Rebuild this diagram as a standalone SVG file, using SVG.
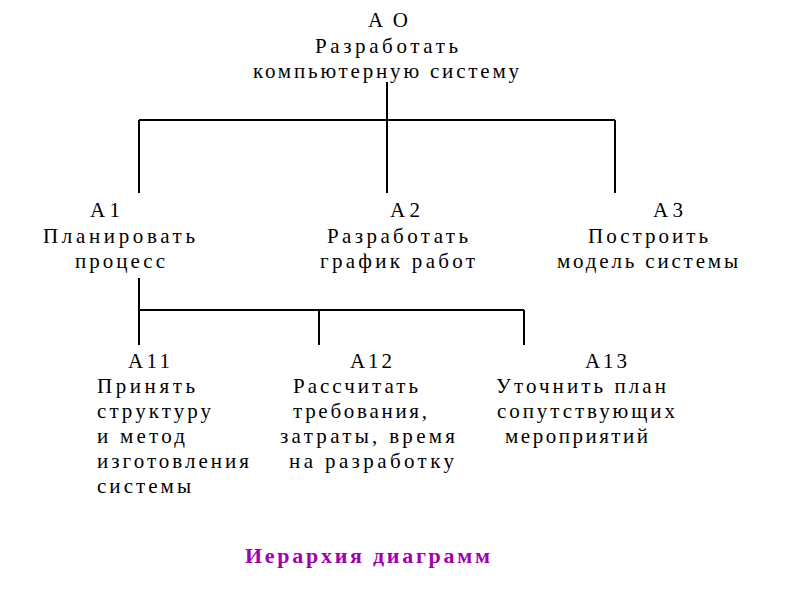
<svg xmlns="http://www.w3.org/2000/svg" width="800" height="600" viewBox="0 0 800 600">
<style>
text{font-family:"Liberation Serif","DejaVu Serif",serif;font-size:21px;fill:#000}
.l{stroke:#000;stroke-width:2;fill:none}
.t{font-family:"Liberation Serif","DejaVu Serif",serif;font-weight:bold;font-size:22px;fill:#a000b0}
</style>
<rect width="800" height="600" fill="#fff"/>
<g id="connectors">
<path class="l" d="M387 82V120M139 120H615M139 120V193M387 120V193M615 120V193"/>
<path class="l" d="M139 278V310H524M319 310V345M524 310V345M139 310V345"/>
</g>
<g id="A0">
<text x="368" y="27" textLength="40" lengthAdjust="spacing">AO</text>
<text x="315" y="53" textLength="143" lengthAdjust="spacing">Разработать</text>
<text x="253" y="78" textLength="266" lengthAdjust="spacing">компьютерную систему</text>
</g>
<g id="A1">
<text x="90" y="217" textLength="30" lengthAdjust="spacing">A1</text>
<text x="43" y="243" textLength="152" lengthAdjust="spacing">Планировать</text>
<text x="75" y="268" textLength="90" lengthAdjust="spacing">процесс</text>
</g>
<g id="A2">
<text x="390" y="217" textLength="30" lengthAdjust="spacing">A2</text>
<text x="327" y="243" textLength="141" lengthAdjust="spacing">Разработать</text>
<text x="320" y="268" textLength="155" lengthAdjust="spacing">график работ</text>
</g>
<g id="A3">
<text x="653" y="217" textLength="30" lengthAdjust="spacing">A3</text>
<text x="588" y="243" textLength="120" lengthAdjust="spacing">Построить</text>
<text x="557" y="268" textLength="181" lengthAdjust="spacing">модель системы</text>
</g>
<g id="A11">
<text x="128" y="368" textLength="42" lengthAdjust="spacing">A11</text>
<text x="97" y="393" textLength="98" lengthAdjust="spacing">Принять</text>
<text x="97" y="418" textLength="114" lengthAdjust="spacing">структуру</text>
<text x="97" y="443" textLength="88" lengthAdjust="spacing">и метод</text>
<text x="97" y="468" textLength="152" lengthAdjust="spacing">изготовления</text>
<text x="97" y="493" textLength="94" lengthAdjust="spacing">системы</text>
</g>
<g id="A12">
<text x="350" y="368" textLength="42" lengthAdjust="spacing">A12</text>
<text x="293" y="393" textLength="125" lengthAdjust="spacing">Рассчитать</text>
<text x="293" y="418" textLength="134" lengthAdjust="spacing">требования,</text>
<text x="280" y="443" textLength="175" lengthAdjust="spacing">затраты, время</text>
<text x="289" y="468" textLength="165" lengthAdjust="spacing">на разработку</text>
</g>
<g id="A13">
<text x="585" y="368" textLength="42" lengthAdjust="spacing">A13</text>
<text x="496" y="393" textLength="170" lengthAdjust="spacing">Уточнить план</text>
<text x="497" y="418" textLength="178" lengthAdjust="spacing">сопутствующих</text>
<text x="505" y="443" textLength="143" lengthAdjust="spacing">мероприятий</text>
</g>
<text class="t" x="245" y="563" textLength="245" lengthAdjust="spacing">Иерархия диаграмм</text>
</svg>
